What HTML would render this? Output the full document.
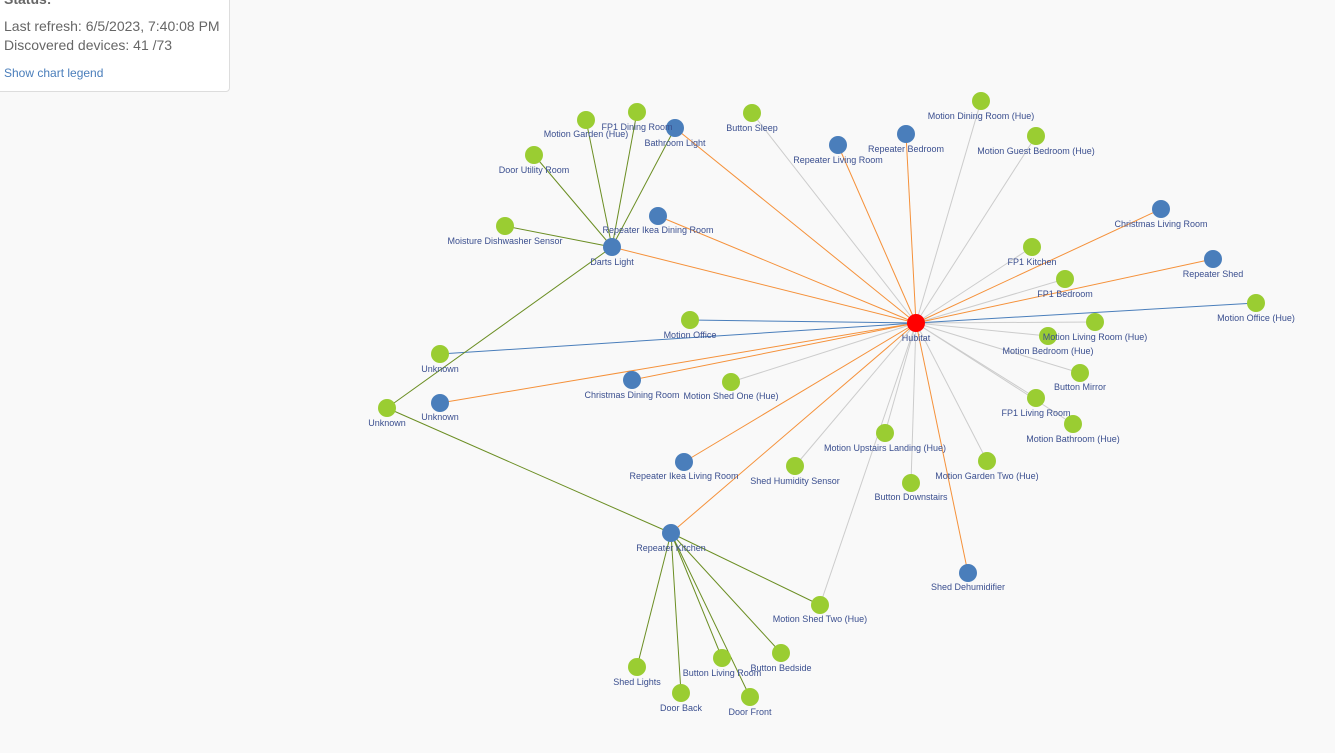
<!DOCTYPE html>
<html><head><meta charset="utf-8"><style>
html,body{margin:0;padding:0;width:1335px;height:753px;overflow:hidden;background:#f9f9f9;font-family:"Liberation Sans",sans-serif}
.panel{position:absolute;left:-10px;top:-20px;width:238px;height:110px;background:#fff;border:1px solid #ddd;border-radius:4px}
.t{position:absolute;left:4px;color:#666;font-size:14px;white-space:nowrap}
svg{position:absolute;left:0;top:0}
svg text{font-family:"Liberation Sans",sans-serif;font-size:9px;fill:#3b4f8f;text-anchor:middle}
</style></head><body>
<div class="panel"></div>
<div class="t" style="top:-9px;font-weight:bold">Status:</div>
<div class="t" style="top:18px">Last refresh: 6/5/2023, 7:40:08 PM</div>
<div class="t" style="top:37px">Discovered devices: 41 /73</div>
<div class="t" style="top:66px;font-size:12px;color:#4a7ebb">Show chart legend</div>
<svg width="1335" height="753">
<g stroke="#ccc" stroke-width="1">
<line x1="916" y1="323" x2="752" y2="113"/><line x1="916" y1="323" x2="981" y2="101"/><line x1="916" y1="323" x2="1036" y2="136"/>
<line x1="916" y1="323" x2="1032" y2="247"/><line x1="916" y1="323" x2="1065" y2="279"/><line x1="916" y1="323" x2="1095" y2="322"/>
<line x1="916" y1="323" x2="1048" y2="336"/><line x1="916" y1="323" x2="1080" y2="373"/><line x1="916" y1="323" x2="1036" y2="398"/>
<line x1="916" y1="323" x2="1073" y2="424"/><line x1="916" y1="323" x2="731" y2="382"/><line x1="916" y1="323" x2="885" y2="433"/>
<line x1="916" y1="323" x2="987" y2="461"/><line x1="916" y1="323" x2="795" y2="466"/><line x1="916" y1="323" x2="911" y2="483"/>
<line x1="916" y1="323" x2="820" y2="605"/>
</g>
<g stroke="#f5913a" stroke-width="1">
<line x1="916" y1="323" x2="675" y2="128"/><line x1="916" y1="323" x2="838" y2="145"/><line x1="916" y1="323" x2="906" y2="134"/>
<line x1="916" y1="323" x2="658" y2="216"/><line x1="916" y1="323" x2="612" y2="247"/><line x1="916" y1="323" x2="1161" y2="209"/>
<line x1="916" y1="323" x2="1213" y2="259"/><line x1="916" y1="323" x2="440" y2="403"/><line x1="916" y1="323" x2="632" y2="380"/>
<line x1="916" y1="323" x2="684" y2="462"/><line x1="916" y1="323" x2="671" y2="533"/><line x1="916" y1="323" x2="968" y2="573"/>
</g>
<g stroke="#4a7ebb" stroke-width="1">
<line x1="916" y1="323" x2="440" y2="354"/><line x1="916" y1="323" x2="1256" y2="303"/><line x1="916" y1="323" x2="690" y2="320"/>
</g>
<g stroke="#6b8e23" stroke-width="1">
<line x1="612" y1="247" x2="586" y2="120"/><line x1="612" y1="247" x2="637" y2="112"/><line x1="612" y1="247" x2="534" y2="155"/>
<line x1="612" y1="247" x2="505" y2="226"/><line x1="612" y1="247" x2="675" y2="128"/><line x1="612" y1="247" x2="387" y2="408"/>
<line x1="387" y1="408" x2="671" y2="533"/>
<line x1="671" y1="533" x2="820" y2="605"/><line x1="671" y1="533" x2="781" y2="653"/><line x1="671" y1="533" x2="722" y2="658"/>
<line x1="671" y1="533" x2="637" y2="667"/><line x1="671" y1="533" x2="681" y2="693"/><line x1="671" y1="533" x2="750" y2="697"/>
</g>
<g fill="#9acd32">
<circle cx="586" cy="120" r="9"/><circle cx="637" cy="112" r="9"/><circle cx="534" cy="155" r="9"/><circle cx="505" cy="226" r="9"/>
<circle cx="752" cy="113" r="9"/><circle cx="981" cy="101" r="9"/><circle cx="1036" cy="136" r="9"/><circle cx="1032" cy="247" r="9"/>
<circle cx="1065" cy="279" r="9"/><circle cx="1256" cy="303" r="9"/><circle cx="1095" cy="322" r="9"/><circle cx="1048" cy="336" r="9"/>
<circle cx="1080" cy="373" r="9"/><circle cx="1036" cy="398" r="9"/><circle cx="1073" cy="424" r="9"/><circle cx="690" cy="320" r="9"/>
<circle cx="440" cy="354" r="9"/><circle cx="387" cy="408" r="9"/><circle cx="731" cy="382" r="9"/><circle cx="885" cy="433" r="9"/>
<circle cx="987" cy="461" r="9"/><circle cx="795" cy="466" r="9"/><circle cx="911" cy="483" r="9"/><circle cx="820" cy="605" r="9"/>
<circle cx="781" cy="653" r="9"/><circle cx="722" cy="658" r="9"/><circle cx="637" cy="667" r="9"/><circle cx="681" cy="693" r="9"/>
<circle cx="750" cy="697" r="9"/>
</g>
<g fill="#4a7ebb">
<circle cx="675" cy="128" r="9"/><circle cx="838" cy="145" r="9"/><circle cx="906" cy="134" r="9"/><circle cx="658" cy="216" r="9"/>
<circle cx="612" cy="247" r="9"/><circle cx="1161" cy="209" r="9"/><circle cx="1213" cy="259" r="9"/><circle cx="440" cy="403" r="9"/>
<circle cx="632" cy="380" r="9"/><circle cx="684" cy="462" r="9"/><circle cx="671" cy="533" r="9"/><circle cx="968" cy="573" r="9"/>
</g>
<circle cx="916" cy="323" r="9" fill="#ff0000"/>
<g>
<text x="916" y="341">Hubitat</text>
<text x="586" y="137">Motion Garden (Hue)</text><text x="637" y="130">FP1 Dining Room</text><text x="534" y="173">Door Utility Room</text>
<text x="505" y="244">Moisture Dishwasher Sensor</text><text x="752" y="131">Button Sleep</text><text x="981" y="119">Motion Dining Room (Hue)</text>
<text x="1036" y="154">Motion Guest Bedroom (Hue)</text><text x="1032" y="265">FP1 Kitchen</text><text x="1065" y="297">FP1 Bedroom</text>
<text x="1256" y="321">Motion Office (Hue)</text><text x="1095" y="340">Motion Living Room (Hue)</text><text x="1048" y="354">Motion Bedroom (Hue)</text>
<text x="1080" y="390">Button Mirror</text><text x="1036" y="416">FP1 Living Room</text><text x="1073" y="442">Motion Bathroom (Hue)</text>
<text x="690" y="338">Motion Office</text><text x="440" y="372">Unknown</text><text x="387" y="426">Unknown</text>
<text x="731" y="399">Motion Shed One (Hue)</text><text x="885" y="451">Motion Upstairs Landing (Hue)</text><text x="987" y="479">Motion Garden Two (Hue)</text>
<text x="795" y="484">Shed Humidity Sensor</text><text x="911" y="500">Button Downstairs</text><text x="820" y="622">Motion Shed Two (Hue)</text>
<text x="781" y="671">Button Bedside</text><text x="722" y="676">Button Living Room</text><text x="637" y="685">Shed Lights</text>
<text x="681" y="711">Door Back</text><text x="750" y="715">Door Front</text>
<text x="675" y="146">Bathroom Light</text><text x="838" y="163">Repeater Living Room</text><text x="906" y="152">Repeater Bedroom</text>
<text x="658" y="233">Repeater Ikea Dining Room</text><text x="612" y="265">Darts Light</text><text x="1161" y="227">Christmas Living Room</text>
<text x="1213" y="277">Repeater Shed</text><text x="440" y="420">Unknown</text><text x="632" y="398">Christmas Dining Room</text>
<text x="684" y="479">Repeater Ikea Living Room</text><text x="671" y="551">Repeater Kitchen</text><text x="968" y="590">Shed Dehumidifier</text>
</g>
</svg>
</body></html>
